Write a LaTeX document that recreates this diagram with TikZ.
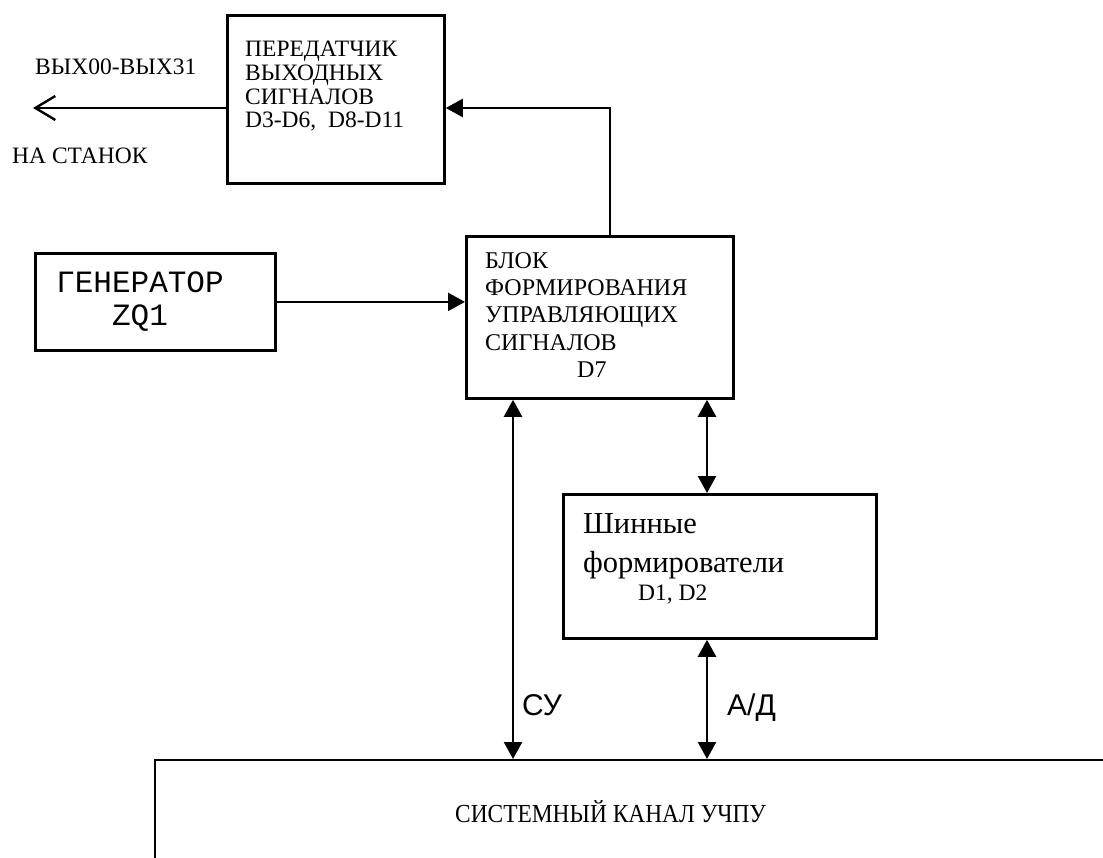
\documentclass[tikz,border=0pt]{standalone}
\usepackage{fontspec}
\setmainfont{Liberation Serif}
\newfontfamily\monof{Liberation Mono}
\newfontfamily\sansf{Liberation Sans}
\newfontfamily\condf[FakeStretch=0.9]{Liberation Serif}
\usetikzlibrary{arrows.meta}
\begin{document}
\begin{tikzpicture}[x=1pt,y=-1pt,
  box/.style={draw, line width=2.8pt, inner sep=0pt, anchor=north west},
  txt/.style={inner sep=0pt, anchor=base west, align=left},
  conn/.style={line width=2.4pt},
  tri/.style={conn, -{Triangle[length=17pt,width=18pt]}},
  dbl/.style={conn, {Triangle[length=17pt,width=18pt]}-{Triangle[length=17pt,width=18pt]}},
  barb/.style={conn, -{Straight Barb[length=20pt,width=24pt,line width=2.4pt]}}]
\useasboundingbox (0,0) rectangle (1103,858);
\clip (0,0) rectangle (1103,858);
% boxes
\node[box, minimum width=217pt, minimum height=168pt] (tr) at (226,14) {};
\node[box, minimum width=240pt, minimum height=97pt] (gen) at (34,252) {};
\node[box, minimum width=267pt, minimum height=162pt] (d7) at (465,235) {};
\node[box, minimum width=313pt, minimum height=144pt] (sh) at (562,493) {};
\node[draw, line width=2pt, inner sep=0pt, anchor=north west, minimum width=1000pt, minimum height=200pt] (bus) at (154,759) {};
% texts (base anchor = last line's baseline)
\node[txt, font=\fontsize{23.5}{23.7}\selectfont] (trt) at (245,128) {ПЕРЕДАТЧИК\\ВЫХОДНЫХ\\СИГНАЛОВ\\D3-D6,\ \ D8-D11};
\node[txt, font=\monof\fontsize{31}{33}\selectfont, align=center, anchor=base] (gent) at (140,326) {ГЕНЕРАТОР\\ZQ1};
\node[txt, font=\fontsize{24}{27.5}\selectfont] (d7t) at (485,378) {БЛОК\\ФОРМИРОВАНИЯ\\УПРАВЛЯЮЩИХ\\СИГНАЛОВ\\\hspace*{92pt}D7};
\node[txt, font=\fontsize{30.5}{39}\selectfont] (sht) at (583,572) {Шинные\\формирователи};
\node[txt, font=\fontsize{23.5}{25}\selectfont] (shd) at (638,600) {D1, D2};
\node[txt, font=\sansf\fontsize{30}{32}\selectfont] (cyl) at (522,715) {СУ};
\node[txt, font=\sansf\fontsize{30}{32}\selectfont] (adl) at (727,715) {А/Д};
\node[txt, font=\fontsize{23.5}{25}\selectfont] (out1) at (35,75) {ВЫХ00-ВЫХ31};
\node[txt, font=\fontsize{23.5}{25}\selectfont] (out2) at (12,164) {НА СТАНОК};
\node[txt, font=\condf\fontsize{26}{28}\selectfont] (bust) at (455,822) {СИСТЕМНЫЙ КАНАЛ УЧПУ};
% connectors
\coordinate (bend) at (610,108);
\coordinate (outtip) at (33,108);
\coordinate (xc) at (513,0);
\coordinate (xd) at (707,0);
\draw[tri] (d7.north -| bend) -- (bend) -- (tr.east |- bend);
\draw[barb] (tr.west |- outtip) -- (outtip);
\draw[tri] (gen.east) -- (d7.west |- gen.east);
\draw[dbl] (d7.south -| xc) -- (bus.north -| xc);
\draw[dbl] (d7.south -| xd) -- (sh.north -| xd);
\draw[dbl] (sh.south -| xd) -- (bus.north -| xd);
\end{tikzpicture}
\end{document}
